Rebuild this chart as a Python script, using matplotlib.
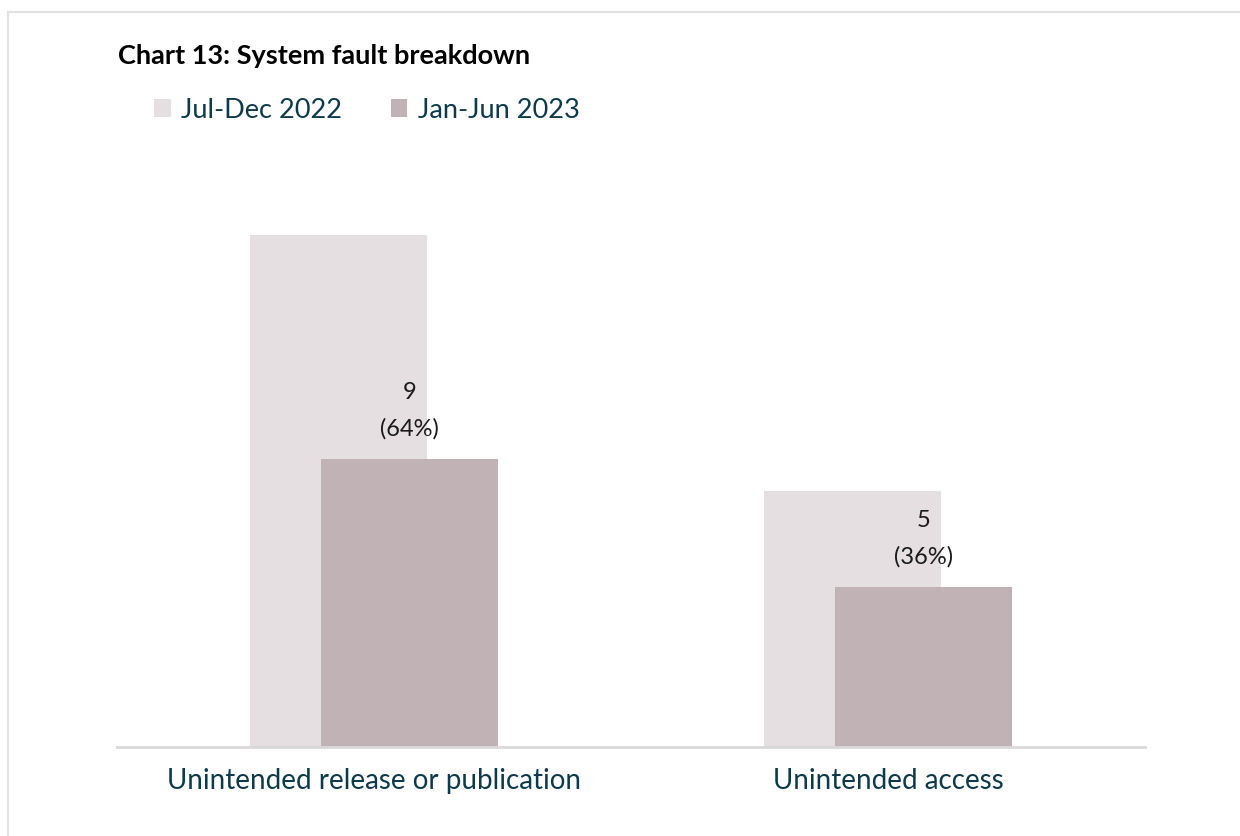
import matplotlib.pyplot as plt
from matplotlib.patches import Rectangle
import numpy as np

plt.rcParams['font.family'] = ['Lato', 'DejaVu Sans']

categories = ['Unintended release or publication', 'Unintended access']
periods = ['Jul-Dec 2022', 'Jan-Jun 2023']
jul_dec_2022 = [16, 8]
jan_jun_2023 = [9, 5]

light = '#e5dfe1'
dark = '#c1b3b5'
text_teal = '#0d3a4a'

fig = plt.figure(figsize=(12.4, 8.36), dpi=100)

# thin grey frame round the panel
fig.patches.append(Rectangle((8 / 1240, -0.01), 1.1, 1 - 12 / 836 + 0.01,
                             transform=fig.transFigure, fill=False,
                             edgecolor='#e2e2e2', linewidth=1.5))

ax = fig.add_axes([0.0944, 0.1065, 0.829, 0.689])

x = np.arange(len(categories))
width = 0.344
shift = 0.069
ax.bar(x - shift, jul_dec_2022, width, color=light, label=periods[0], zorder=1)
bars = ax.bar(x + shift, jan_jun_2023, width, color=dark, label=periods[1], zorder=2)

# count and share labels above the 2023 bars
total = sum(jan_jun_2023)
for rect, v in zip(bars, jan_jun_2023):
    cx = rect.get_x() + rect.get_width() / 2
    ax.annotate(f'({v / total:.0%})', (cx, v), xytext=(0, 21.5),
                textcoords='offset points', ha='center', va='center',
                fontsize=17, color='#1a1a1a')
    ax.annotate(f'{v}', (cx, v), xytext=(0, 47.5),
                textcoords='offset points', ha='center', va='center',
                fontsize=17, color='#1a1a1a')

ax.set_xlim(-0.5, 1.5)
ax.set_ylim(0, 18)
ax.set_xticks(x)
ax.set_xticklabels(categories, fontsize=20, color=text_teal)
ax.tick_params(axis='x', length=0, pad=15)
ax.set_yticks([])
for side in ['top', 'right', 'left']:
    ax.spines[side].set_visible(False)
ax.spines['bottom'].set_color('#d9d9d9')
ax.spines['bottom'].set_linewidth(2)

fig.text(118 / 1240, 1 - 56 / 836, 'Chart 13: System fault breakdown',
         fontsize=19.5, fontweight='bold', color='black', va='center')

leg = fig.legend(loc='center left', bbox_to_anchor=(130 / 1240, 1 - 110 / 836),
                 ncol=2, frameon=False, fontsize=19.5, handlelength=0.6,
                 handleheight=0.6, handletextpad=0.4, columnspacing=1.8)
for t in leg.get_texts():
    t.set_color(text_teal)

fig.savefig('out.png', dpi=100)
